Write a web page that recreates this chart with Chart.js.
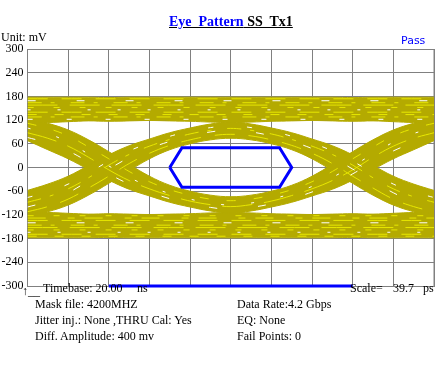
<!DOCTYPE html>
<html lang="en">
<head>
    <meta charset="UTF-8">
    <title>Eye Pattern SS Tx1</title>
    <script src="https://cdn.jsdelivr.net/npm/chart.js"></script>
    <style>
        body {
            margin: 0;
            background: #fff;
            width: 440px;
            height: 367px;
            overflow: hidden;
            position: relative;
            font-family: 'Liberation Serif', serif;
            font-size: 12px;
            color: #000;
        }
        #eye {
            position: absolute;
            left: 0;
            top: 0;
        }
        .txt {
            position: absolute;
            line-height: 12px;
            white-space: pre;
        }
        .title {
            position: absolute;
            left: 169px;
            top: 15px;
            font-size: 14px;
            font-weight: bold;
            line-height: 14px;
            white-space: pre;
            text-decoration: underline;
        }
        .pass {
            font-family: 'DejaVu Sans', sans-serif;
            font-size: 11px;
            color: #0000ff;
        }
    </style>
</head>
<body>
    <canvas id="eye" width="440" height="367"></canvas>

    <div class="title"><span style="color:#0000ff">Eye  Pattern</span> SS  Tx1</div>
    <div class="txt" style="left:1px; top:31px;">Unit: mV</div>
    <div class="txt pass" style="left:401px; top:35px;">Pass</div>

    <div class="txt" style="left:22px; top:285px;">↑__</div>
    <div class="txt" style="left:43px; top:282px;">Timebase: 20.00</div>
    <div class="txt" style="left:137px; top:282px;">ns</div>
    <div class="txt" style="left:350px; top:282px;">Scale=</div>
    <div class="txt" style="left:393px; top:282px;">39.7</div>
    <div class="txt" style="left:423px; top:282px;">ps</div>

    <div class="txt" style="left:35px; top:298px;">Mask file: 4200MHZ</div>
    <div class="txt" style="left:35px; top:314px;">Jitter inj.: None ,THRU Cal: Yes</div>
    <div class="txt" style="left:35px; top:330px;">Diff. Amplitude: 400 mv</div>
    <div class="txt" style="left:237px; top:298px;">Data Rate:4.2 Gbps</div>
    <div class="txt" style="left:237px; top:314px;">EQ: None</div>
    <div class="txt" style="left:237px; top:330px;">Fail Points: 0</div>

    <script>
        // time axis in screen divisions (10 divisions), voltage in mV
        const divs = [0, 0.5, 1, 1.5, 2, 2.5, 3, 3.5, 4, 4.5, 5, 5.5, 6, 6.5, 7, 7.5, 8, 8.5, 9, 9.5, 10];

        // upper rail band (long runs of ones)
        const topRailHi = [178, 178, 178, 178, 177, 178, 178, 178, 178, 178, 178, 178, 178, 178, 178, 178, 177, 178, 178, 178, 178];
        const topRailLo = [115, 114, 116, 118, 117, 118, 119, 118, 117, 115, 114, 115, 117, 118, 119, 118, 117, 118, 116, 114, 115];

        // lower rail band (long runs of zeros)
        const lowRailHi = [-115, -114, -116, -118, -117, -118, -119, -118, -117, -115, -114, -115, -117, -118, -119, -118, -117, -118, -116, -114, -115];
        const lowRailLo = [-178, -178, -178, -178, -177, -178, -178, -178, -178, -178, -178, -178, -178, -178, -178, -178, -177, -178, -178, -178, -178];

        // transition band rising at the left crossing, falling at the right one
        const upArcHi = [-58, -42, -22, 5, 32, 55, 72, 88, 100, 110, 115, 110, 100, 88, 72, 55, 32, 5, -22, -42, -58];
        const upArcLo = [-125, -112, -95, -70, -40, -8, 22, 45, 60, 70, 74, 70, 60, 45, 22, -8, -40, -70, -95, -112, -125];

        // transition band falling at the left crossing, rising at the right one
        const downArcHi = [125, 112, 95, 70, 40, 8, -22, -45, -60, -70, -74, -70, -60, -45, -22, 8, 40, 70, 95, 112, 125];
        const downArcLo = [68, 45, 22, -5, -32, -55, -72, -88, -100, -110, -115, -110, -100, -88, -72, -55, -32, -5, 22, 45, 68];

        // brighter traces inside the transition bands
        const upTraces = [
            [-112, -99, -80, -52, -22, 10, 36, 56, 70, 80, 84, 80, 70, 56, 36, 10, -22, -52, -80, -99, -112],
            [-100, -86, -64, -34, -4, 25, 48, 66, 80, 90, 95, 90, 80, 66, 48, 25, -4, -34, -64, -86, -100],
            [-88, -74, -54, -26, 6, 33, 54, 71, 85, 94, 99, 94, 85, 71, 54, 33, 6, -26, -54, -74, -88],
            [-76, -62, -42, -14, 16, 42, 62, 79, 92, 101, 106, 101, 92, 79, 62, 42, 16, -14, -42, -62, -76]
        ];
        const downTraces = [
            [112, 99, 80, 52, 22, -10, -36, -56, -70, -80, -84, -80, -70, -56, -36, -10, 22, 52, 80, 99, 112],
            [100, 86, 64, 34, 4, -25, -48, -66, -80, -90, -95, -90, -80, -66, -48, -25, 4, 34, 64, 86, 100],
            [88, 74, 54, 26, -6, -33, -54, -71, -85, -94, -99, -94, -85, -71, -54, -33, -6, 26, 54, 74, 88],
            [76, 62, 42, 14, -16, -42, -62, -79, -92, -101, -106, -101, -92, -79, -62, -42, -16, 14, 42, 62, 76]
        ];
        // horizontal streak levels inside the rails
        const railTraces = [174, 169, 164, 158, 152, 146, 140, 134, 128, 122,
                            -122, -128, -134, -140, -146, -152, -158, -164, -169, -174];

        // mask polygon (divisions, mV)
        const maskX = [3.5, 3.8, 6.2, 6.5, 6.2, 3.8, 3.5];
        const maskY = [0, 50, 50, 0, -50, -50, 0];

        // reference bar on the bottom edge
        const barX = [2, 8];
        const barY = [-300, -300];

        const yTicks = [300, 240, 180, 120, 60, 0, -60, -120, -180, -240, -300];

        const olive = '#b4aa00';
        const bright = '#e8e800';
        const yellowDash = [[20, 14], [9, 18], [14, 9, 4, 16], [30, 12], [6, 20], [18, 22, 7, 10]];
        const whiteDash = [[5, 34], [8, 41], [3, 27]];

        const pts = (xs, ys) => xs.map((x, i) => ({ x: x, y: ys[i] }));

        const band = (hi, lo) => [
            {
                data: pts(divs, hi),
                borderColor: olive,
                backgroundColor: olive,
                borderWidth: 1,
                pointRadius: 0,
                tension: 0.4,
                fill: '+1',
                order: 10
            },
            {
                data: pts(divs, lo),
                borderColor: olive,
                backgroundColor: olive,
                borderWidth: 1,
                pointRadius: 0,
                tension: 0.4,
                fill: false,
                order: 10
            }
        ];

        const trace = (xs, ys, color, dash) => ({
            data: pts(xs, ys),
            borderColor: color,
            borderWidth: 1,
            borderDash: dash,
            pointRadius: 0,
            tension: 0.4,
            fill: false,
            order: 5
        });

        const datasets = [
            ...band(topRailHi, topRailLo),
            ...band(lowRailHi, lowRailLo),
            ...band(upArcHi, upArcLo),
            ...band(downArcHi, downArcLo)
        ];

        upTraces.forEach((ys, i) => {
            datasets.push(i % 2 ? trace(divs, ys, '#ffffff', whiteDash[i % 3])
                                 : trace(divs, ys, bright, yellowDash[i]));
        });
        downTraces.forEach((ys, i) => {
            datasets.push(i % 2 ? trace(divs, ys, '#ffffff', whiteDash[(i + 1) % 3])
                                 : trace(divs, ys, bright, yellowDash[i + 1]));
        });
        railTraces.forEach((v, i) => {
            datasets.push(i % 4 === 1 ? trace([0, 10], [v, v], '#ffffff', whiteDash[i % 3])
                                      : trace([0, 10], [v, v], bright, yellowDash[i % yellowDash.length]));
        });

        datasets.push({
            data: pts(maskX, maskY),
            borderColor: '#0000ff',
            borderWidth: 3,
            pointRadius: 0,
            tension: 0,
            fill: false,
            order: 1
        });

        datasets.push({
            data: pts(barX, barY),
            borderColor: '#0000ff',
            borderWidth: 3,
            pointRadius: 0,
            fill: false,
            clip: false,
            order: 1
        });

        new Chart(document.getElementById('eye'), {
            type: 'scatter',
            data: { datasets: datasets },
            options: {
                responsive: false,
                animation: false,
                showLine: true,
                layout: {
                    padding: { top: 49, left: 0, right: 6, bottom: 81 }
                },
                plugins: {
                    legend: { display: false },
                    tooltip: { enabled: false }
                },
                scales: {
                    x: {
                        type: 'linear',
                        min: 0,
                        max: 10,
                        ticks: { stepSize: 1, display: false },
                        grid: { color: '#808080', drawTicks: false },
                        border: { color: '#808080' },
                        afterFit: (scale) => { scale.height = 0; }
                    },
                    y: {
                        min: -300,
                        max: 300,
                        afterBuildTicks: (scale) => { scale.ticks = yTicks.map(v => ({ value: v })); },
                        ticks: {
                            color: '#000',
                            padding: 4,
                            font: { family: 'Liberation Serif', size: 12 }
                        },
                        grid: { color: '#808080', drawTicks: false },
                        border: { color: '#808080' },
                        afterFit: (scale) => { scale.width = 27.5; }
                    }
                }
            },
            plugins: [{
                id: 'rightEdge',
                beforeDatasetsDraw(chart) {
                    const a = chart.chartArea;
                    const ctx = chart.ctx;
                    ctx.save();
                    ctx.strokeStyle = '#808080';
                    ctx.lineWidth = 1;
                    ctx.beginPath();
                    ctx.moveTo(a.right, a.top);
                    ctx.lineTo(a.right, a.bottom);
                    ctx.stroke();
                    ctx.restore();
                }
            }]
        });
    </script>
</body>
</html>
